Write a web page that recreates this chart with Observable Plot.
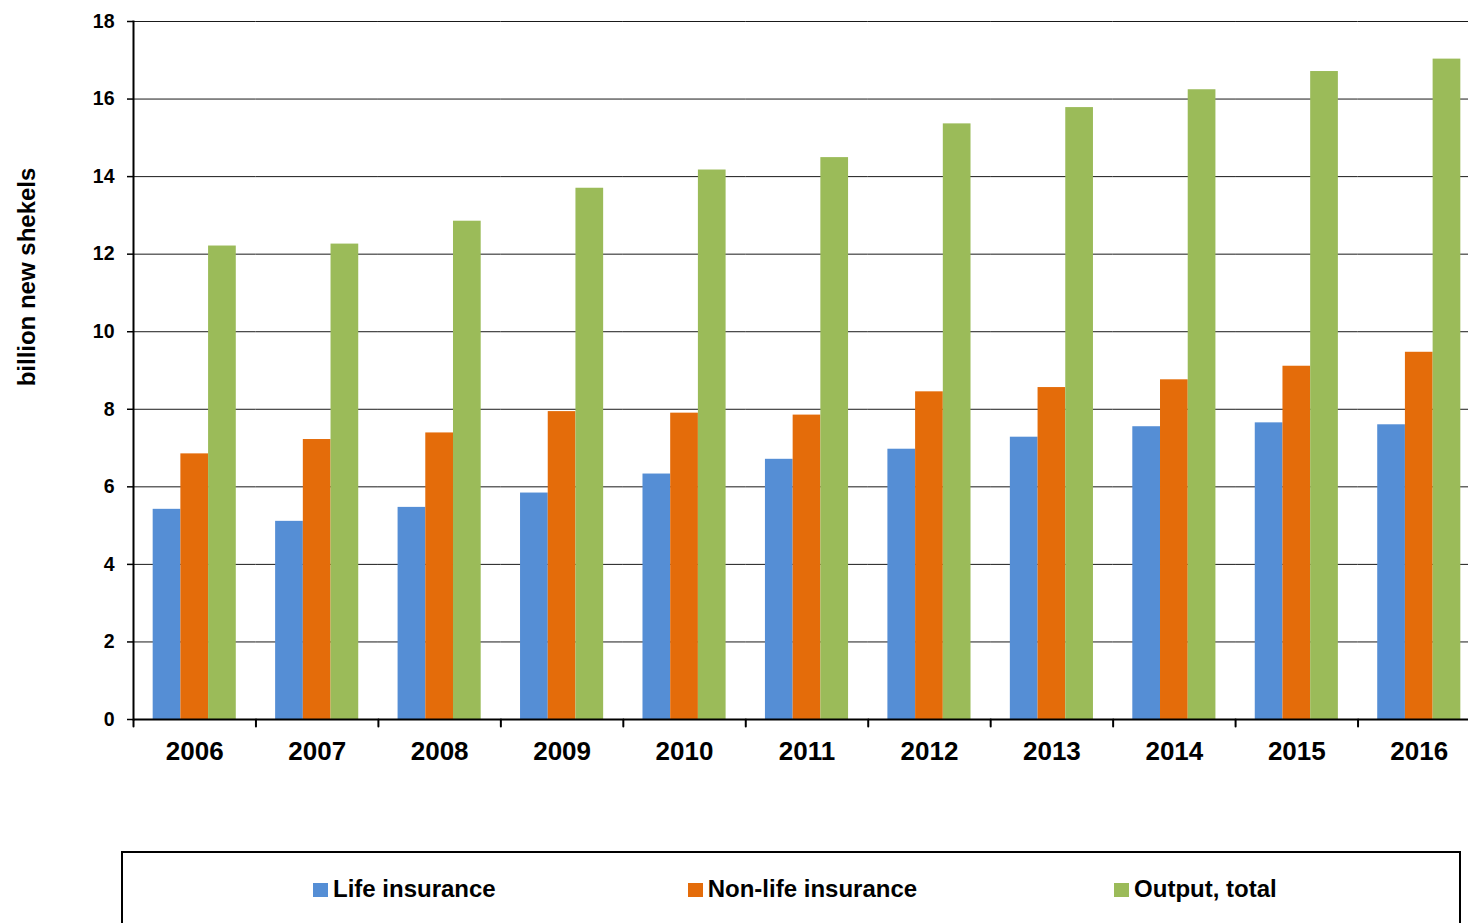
<!DOCTYPE html>
<html>
<head>
<meta charset="utf-8">
<script src="https://cdn.jsdelivr.net/npm/d3@7"></script>
<script src="https://cdn.jsdelivr.net/npm/@observablehq/plot@0.6"></script>
<style>
  html, body { margin: 0; padding: 0; background: #fff; overflow: hidden; }
  body { position: relative; width: 1468px; height: 923px; font-family: "Liberation Sans", Arial, sans-serif; font-weight: bold; color: #000; }
  #chart svg { display: block; }
  #ylabel {
    position: absolute; left: 27px; top: 276.5px;
    transform: translate(-50%, -50%) rotate(-90deg);
    font-size: 24px; line-height: 28px; white-space: nowrap;
  }
  #legend {
    position: absolute; left: 121px; top: 851px; width: 1340px; height: 120px;
    box-sizing: border-box; border: 2px solid #000; padding-top: 22px; padding-left: 190px;
    display: flex; justify-content: flex-start;
    font-size: 24px; line-height: 28px;
  }
  #legend .item { white-space: nowrap; }
  #legend .item:nth-child(2) { margin-left: 192px; }
  #legend .item:nth-child(3) { margin-left: 197px; }
  #legend .swatch { display: inline-block; width: 15px; height: 14px; margin-right: 5px; vertical-align: baseline; }
</style>
</head>
<body>
<div id="chart"></div>
<div id="ylabel">billion new shekels</div>
<div id="legend"></div>
<script>
// Insurance output by year, billion new shekels
const years = ["2006", "2007", "2008", "2009", "2010", "2011", "2012", "2013", "2014", "2015", "2016"];
const series = ["Life insurance", "Non-life insurance", "Output, total"];
const lifeInsurance    = [5.42, 5.11, 5.47, 5.84, 6.33, 6.71, 6.97, 7.28, 7.55, 7.65, 7.60];
const nonLifeInsurance = [6.85, 7.22, 7.39, 7.94, 7.90, 7.85, 8.45, 8.56, 8.76, 9.11, 9.47];
const outputTotal      = [12.21, 12.26, 12.85, 13.70, 14.17, 14.49, 15.36, 15.78, 16.24, 16.71, 17.03];
const seriesColors = ["#558ED5", "#E46C0A", "#9BBB59"];
const yTicks = [0, 2, 4, 6, 8, 10, 12, 14, 16, 18];

const valuesBySeries = [lifeInsurance, nonLifeInsurance, outputTotal];
const rows = years.flatMap((year, i) =>
  series.map((name, s) => ({year, series: name, value: valuesBySeries[s][i]}))
);

// short downward stroke marking each category boundary on the x axis
const boundaryTick = {
  draw(context, length) {
    context.moveTo(0, 0);
    context.lineTo(0, -length);
  }
};

const chart = Plot.plot({
  width: 1468,
  height: 790,
  marginLeft: 133,
  marginRight: -12,
  marginTop: 21,
  marginBottom: 71,
  style: {fontFamily: "'Liberation Sans', Arial, sans-serif", fontWeight: "bold", color: "#000", background: "#fff", overflow: "hidden"},
  fx: {domain: years, paddingInner: 0, paddingOuter: 0, round: false, label: null},
  x: {domain: series, paddingInner: 0, paddingOuter: 0.71, round: false, axis: null},
  y: {domain: [0, 18], label: null},
  color: {domain: series, range: seriesColors},
  marks: [
    Plot.gridY(yTicks, {stroke: "#1a1a1a", strokeOpacity: 1, strokeWidth: 1}),
    Plot.barY(rows, {fx: "year", x: "series", y: "value", fill: "series"}),
    Plot.ruleY([0], {stroke: "#000", strokeWidth: 2}),
    Plot.frame({anchor: "left", facetAnchor: "left", stroke: "#000", strokeWidth: 2}),
    Plot.vector([0], {y: (d) => d, frameAnchor: "left", length: 7, rotate: 180, anchor: "start", shape: boundaryTick, stroke: "#000", strokeWidth: 2}),
    Plot.axisY(yTicks, {tickSize: 6, tickPadding: 13, fontSize: 19.5, label: null, strokeWidth: 1.5}),
    Plot.axisFx({anchor: "bottom", tickSize: 0, tickPadding: 22, fontSize: 26, label: null})
  ]
});
document.getElementById("chart").append(chart);

// legend below the chart
const legend = d3.select("#legend");
series.forEach((name, i) => {
  const item = legend.append("div").attr("class", "item");
  item.append("span").attr("class", "swatch").style("background", seriesColors[i]);
  item.append("span").text(name);
});
</script>
</body>
</html>
